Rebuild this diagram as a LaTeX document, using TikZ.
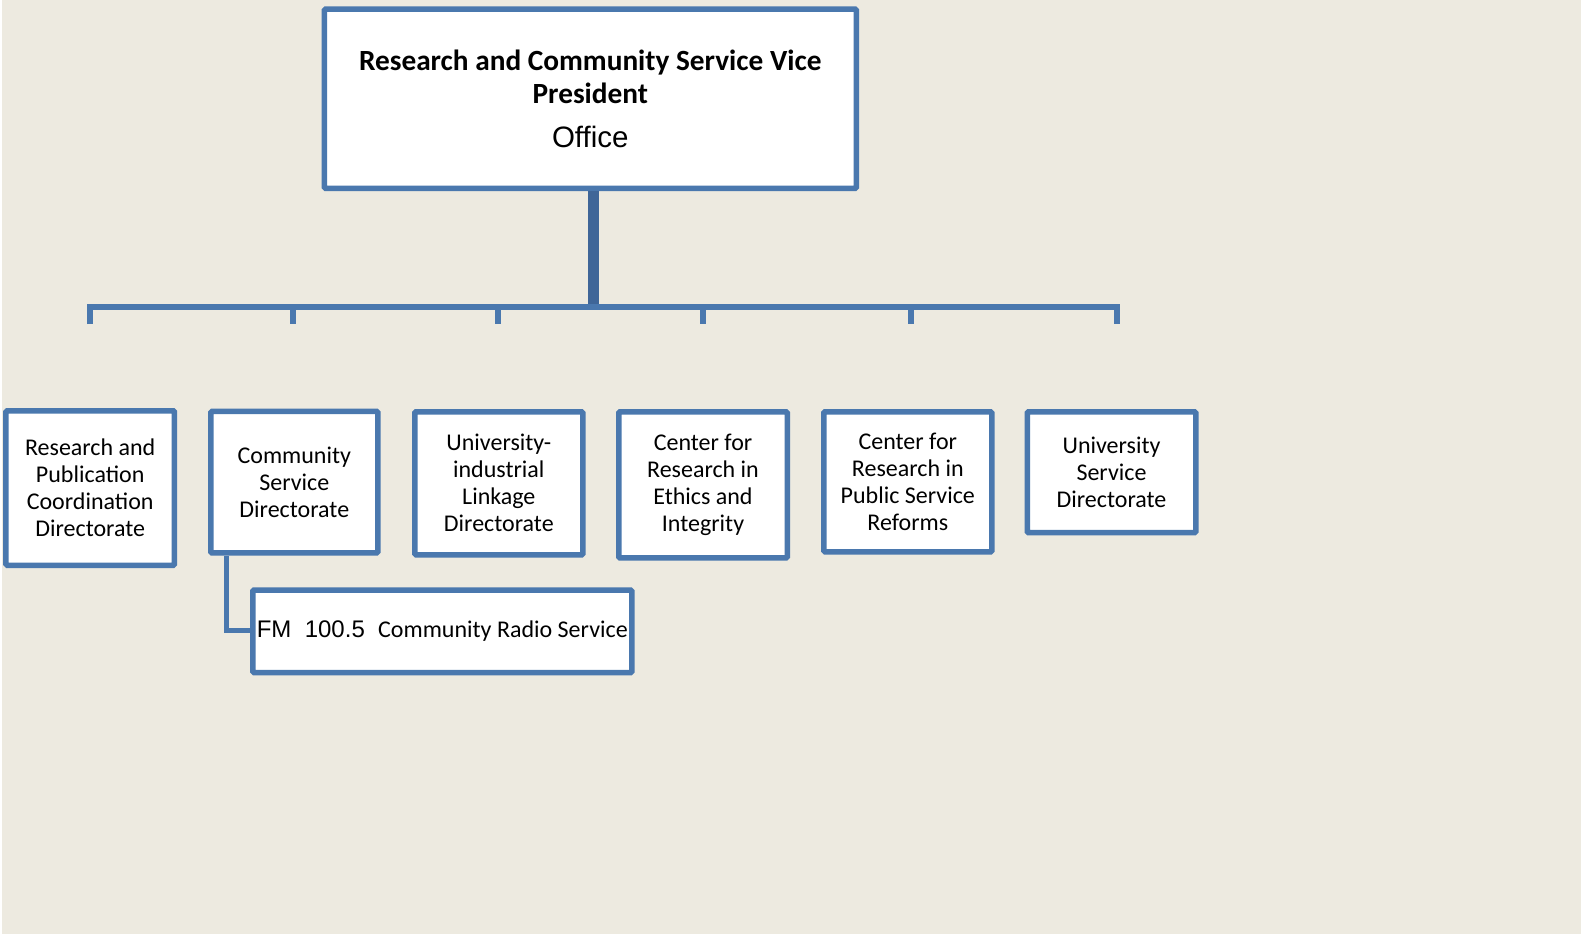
\documentclass[tikz,border=0pt]{standalone}
\usepackage{fontspec}
\setmainfont{Carlito}
\newfontfamily\arialf{Liberation Sans}
\definecolor{bgc}{RGB}{237,234,224}
\definecolor{boxblue}{RGB}{74,120,174}
\definecolor{trunkblue}{RGB}{63,102,152}
\tikzset{
  orgbox/.style={draw=boxblue, line width=5.5pt, fill=white, inner sep=0pt, align=center,
    rounded corners=1.2pt, font=\fontsize{24}{27}\selectfont},
  busline/.style={draw=boxblue, line width=5.5pt, line join=miter},
  trunkline/.style={draw=trunkblue, line width=11pt},
}
\begin{document}
\begin{tikzpicture}[x=1pt,y=-1pt]
\useasboundingbox (0,0) rectangle (1581,934);
\fill[bgc] (0,0) rectangle (1581,934);
\fill[white] (0,0) rectangle (1.5,934);

\node[orgbox, minimum width=532pt, minimum height=179pt,
  font=\bfseries\fontsize{29.3}{33.3}\selectfont] (top) at (590.3,98.75)
  {Research and Community Service Vice\\President\\[10pt]\arialf\mdseries\fontsize{29.5}{33}\selectfont Office};

\node[orgbox, minimum width=168.5pt, minimum height=154.5pt] (b1) at (90.2,488)
  {Research and\\Publication\\Coordination\\Directorate};
\node[orgbox, minimum width=167pt, minimum height=141.5pt] (b2) at (294.3,482.2)
  {Community\\Service\\Directorate};
\node[orgbox, minimum width=168pt, minimum height=143.1pt] (b3) at (498.8,483.3)
  {University-\\industrial\\Linkage\\Directorate};
\node[orgbox, minimum width=168.5pt, minimum height=146.1pt] (b4) at (703,484.8)
  {Center for\\Research in\\Ethics and\\Integrity};
\node[orgbox, minimum width=168pt, minimum height=140.1pt] (b5) at (907.8,481.8)
  {Center for\\Research in\\Public Service\\Reforms};
\node[orgbox, minimum width=168.5pt, minimum height=120.9pt] (b6) at (1111.5,472.2)
  {University\\Service\\Directorate};

\node[orgbox, minimum width=379pt, minimum height=82.6pt] (fm) at (442.3,631.3)
  {\arialf FM\ \ 100.5\ \ \normalfont\fontsize{24}{27}\selectfont Community Radio Service};

% bus coordinates
\coordinate (t1) at (90,307);
\coordinate (t2) at (293,307);
\coordinate (t3) at (498,307);
\coordinate (t4) at (703,307);
\coordinate (t5) at (911,307);
\coordinate (t6) at (1117,307);
\coordinate (d1) at (90,324);
\coordinate (d2) at (293,324);
\coordinate (d3) at (498,324);
\coordinate (d4) at (703,324);
\coordinate (d5) at (911,324);
\coordinate (d6) at (1117,324);
\coordinate (tb) at (593,307);

\draw[trunkline] (top.south -| tb) -- (tb);
\draw[busline] (d1) -- (t1) -- (t6) -- (d6);
\draw[busline] (t2) -- (d2);
\draw[busline] (t3) -- (d3);
\draw[busline] (t4) -- (d4);
\draw[busline] (t5) -- (d5);

\coordinate (fmc) at (226.3,630.5);
\draw[busline] (b2.south -| fmc) -- (fmc) -- (fm.west |- fmc);
\end{tikzpicture}
\end{document}
